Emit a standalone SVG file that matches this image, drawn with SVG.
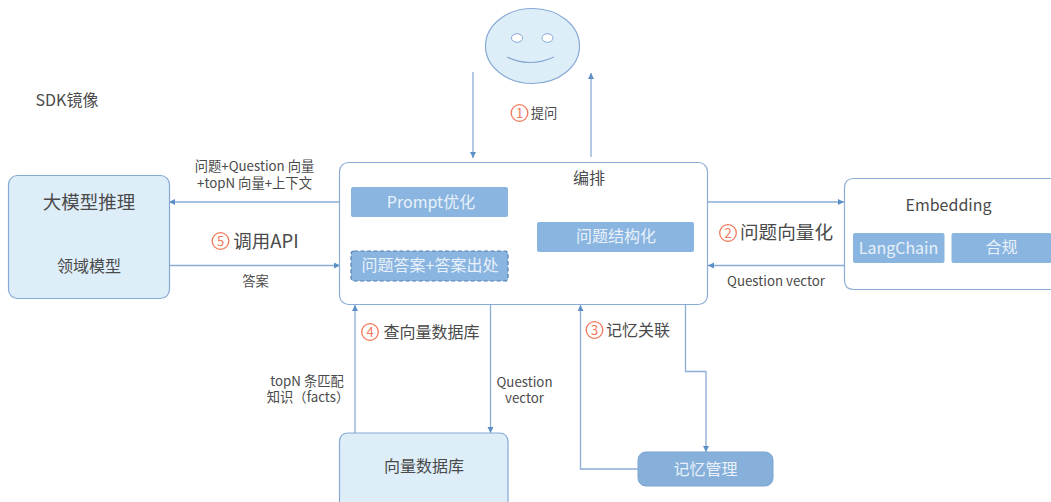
<svg xmlns="http://www.w3.org/2000/svg" width="1051" height="502" viewBox="0 0 1051 502">
<style>
text{font-family:"Noto Sans CJK SC","Noto Sans",sans-serif;fill:#4a4a4a;text-anchor:middle}
.s13{font-size:13.300px}.s16{font-size:16px}
.w{fill:#e8f1fa}
.box{fill:#deeef9;stroke:#86a9d4;stroke-width:1.2}
.frame{fill:#fff;stroke:#8aacd6;stroke-width:1.2}
.tag{fill:#8ab5e0}
.line{fill:none;stroke:#8aacd6;stroke-width:1.3;marker-end:url(#a)}
.num{fill:none;stroke:#f0785a;stroke-width:1.3}
.nt{fill:#f0785a;font-size:13px}
</style>
<defs><marker id="a" markerUnits="userSpaceOnUse" markerWidth="7" markerHeight="7" refX="6" refY="3" orient="auto"><path d="M0 0L6 3L0 6Z" fill="#5c8fc6"/></marker></defs>
<rect width="1051" height="502" fill="#fff"/>
<g id="connectors">
<path class="line" d="M473 72V158"/>
<path class="line" d="M591 157V73"/>
<path class="line" d="M340 202H169"/>
<path class="line" d="M169 265.500H340"/>
<path class="line" d="M708 202H844"/>
<path class="line" d="M844 265.500H708"/>
<path class="line" d="M355 433V305"/>
<path class="line" d="M490.500 305V433"/>
<path class="line" d="M638 469H580.500V305"/>
<path class="line" d="M685.500 305V371.500H706V452"/>
</g>
<g id="user">
<ellipse cx="532.500" cy="46" rx="47" ry="37.500" class="box"/>
<ellipse cx="517" cy="38" rx="5.500" ry="4.300" fill="#fff" stroke="#86a9d4"/>
<ellipse cx="547.500" cy="38" rx="5.500" ry="4.300" fill="#fff" stroke="#86a9d4"/>
<path d="M507 57Q530 68 554 57" fill="none" stroke="#86a9d4" stroke-width="1.2"/>
</g>
<g id="sdk"><text x="67" y="106" class="s16">SDK镜像</text></g>
<g id="model">
<rect x="8.500" y="175.500" width="161" height="123" rx="9" class="box"/>
<text x="89" y="209" font-size="18.500">大模型推理</text>
<text x="89" y="272" class="s16">领域模型</text>
</g>
<g id="orchestrator">
<rect x="339.500" y="162.500" width="368" height="142" rx="9" class="frame"/>
<text x="589" y="184" class="s16">编排</text>
<rect x="351" y="187" width="157" height="30" rx="2" class="tag"/>
<text x="431" y="208" class="s16 w">Prompt优化</text>
<rect x="537" y="222" width="157" height="30" rx="2" class="tag"/>
<text x="616" y="242" class="s16 w">问题结构化</text>
<rect x="351" y="251" width="157" height="30" rx="3" class="tag" stroke="#4f7fb0" stroke-width="1.2" stroke-dasharray="4 2.500"/>
<text x="430" y="271" class="s16 w">问题答案+答案出处</text>
</g>
<g id="embedding">
<path d="M1051 178.500H854Q844.500 178.500 844.500 188V280Q844.500 289.500 854 289.500H1051" class="frame"/>
<text x="948.500" y="211" class="s16">Embedding</text>
<rect x="853" y="233" width="91.500" height="30" rx="2" class="tag"/>
<text x="898.500" y="254" class="s16 w">LangChain</text>
<rect x="951.500" y="233" width="100" height="30" rx="2" class="tag"/>
<text x="1001.500" y="253" class="s16 w">合规</text>
</g>
<g id="vectordb">
<path d="M339.500 502V442Q339.500 433 348.500 433H499Q508 433 508 442V502" class="box"/>
<text x="424" y="472" class="s16">向量数据库</text>
</g>
<g id="memory">
<rect x="638" y="452" width="135" height="34" rx="8" fill="#86b0d9" stroke="#7aa5d1"/>
<text x="705.500" y="475" class="s16 w">记忆管理</text>
</g>
<g id="labels">
<circle cx="519.500" cy="113" r="8.300" class="num"/><text x="519.500" y="117.500" class="nt">1</text>
<text x="544" y="118" class="s13">提问</text>
<text class="s13"><tspan x="254.500" y="171">问题+Question 向量</tspan><tspan x="254.500" y="188">+topN 向量+上下文</tspan></text>
<circle cx="220.500" cy="241" r="8.300" class="num"/><text x="220.500" y="245.500" class="nt">5</text>
<text x="266" y="247.500" font-size="18.500">调用API</text>
<text x="255.500" y="286" class="s13">答案</text>
<circle cx="728" cy="233" r="8.300" class="num"/><text x="728" y="237.500" class="nt">2</text>
<text x="786.500" y="239" font-size="18.600">问题向量化</text>
<text x="776" y="286" class="s13">Question vector</text>
<circle cx="370" cy="332" r="8.300" class="num"/><text x="370" y="336.500" class="nt">4</text>
<text x="431.500" y="338" class="s16">查向量数据库</text>
<text class="s13"><tspan x="307" y="386">topN 条匹配</tspan><tspan x="308" y="402">知识（facts）</tspan></text>
<text class="s13"><tspan x="524.500" y="387">Question</tspan><tspan x="524.500" y="403">vector</tspan></text>
<circle cx="594.500" cy="330" r="8.300" class="num"/><text x="594.500" y="334.500" class="nt">3</text>
<text x="638" y="336" class="s16">记忆关联</text>
</g>
</svg>
